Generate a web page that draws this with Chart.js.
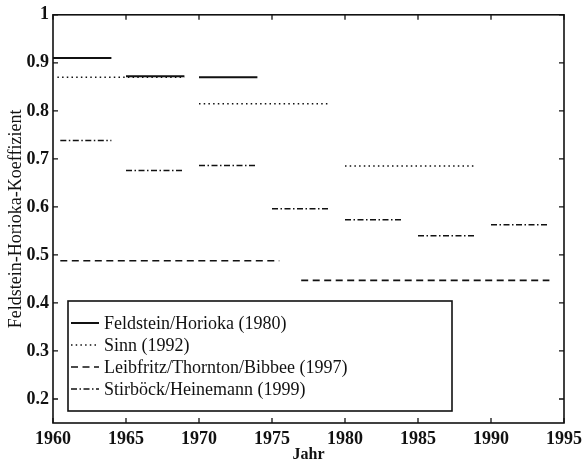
<!DOCTYPE html>
<html>
<head>
<meta charset="utf-8">
<script src="https://cdn.jsdelivr.net/npm/chart.js@4.4.1/dist/chart.umd.min.js"></script>
<style>
  html, body { margin: 0; padding: 0; background: #fff; }
  #wrap { width: 588px; height: 464px; }
</style>
</head>
<body>
<div id="wrap"><canvas id="fhChart"></canvas></div>
<script>
// Feldstein-Horioka coefficients by study and period
var seriesNames = [
    'Feldstein/Horioka (1980)',
    'Sinn (1992)',
    'Leibfritz/Thornton/Bibbee (1997)',
    'Stirböck/Heinemann (1999)'
];

var fhStart = [1960, 1965, 1970];
var fhEnd   = [1964, 1969, 1974];
var fhValue = [0.91, 0.872, 0.87];

var sinnStart = [1960.3, 1970, 1980];
var sinnEnd   = [1969, 1979, 1989];
var sinnValue = [0.87, 0.815, 0.685];

var lfStart = [1960.5, 1977];
var lfEnd   = [1975.5, 1994];
var lfValue = [0.488, 0.447];

var shStart = [1960.5, 1965, 1970, 1975, 1980, 1985, 1990];
var shEnd   = [1964, 1969, 1974, 1979, 1984, 1989, 1994];
var shValue = [0.738, 0.676, 0.686, 0.596, 0.573, 0.54, 0.563];

var xTicks = [1960, 1965, 1970, 1975, 1980, 1985, 1990, 1995];
var yTicks = [0.2, 0.3, 0.4, 0.5, 0.6, 0.7, 0.8, 0.9, 1.0];

var serif = "'Liberation Serif', 'Times New Roman', serif";

function segments(start, end, value) {
    var pts = [];
    for (var i = 0; i < start.length; i++) {
        pts.push({ x: start[i], y: value[i] });
        pts.push({ x: end[i], y: value[i] });
        pts.push({ x: end[i], y: null });
    }
    return pts;
}

var styles = [
    { width: 2,   dash: [] },
    { width: 1.5, dash: [1.5, 3.2] },
    { width: 1.6, dash: [7, 4.5] },
    { width: 1.5, dash: [6, 2.5, 1.5, 2.5] }
];

var data = [
    segments(fhStart, fhEnd, fhValue),
    segments(sinnStart, sinnEnd, sinnValue),
    segments(lfStart, lfEnd, lfValue),
    segments(shStart, shEnd, shValue)
];

var datasets = data.map(function (pts, i) {
    return {
        label: seriesNames[i],
        data: pts,
        borderColor: '#111',
        borderWidth: styles[i].width,
        borderDash: styles[i].dash,
        pointRadius: 0,
        fill: false,
        spanGaps: false,
        tension: 0
    };
});

// box around plot, inward ticks on all sides, and legend box
var framePlugin = {
    id: 'frame',
    afterDraw: function (chart) {
        var ctx = chart.ctx, a = chart.chartArea;
        var xs = chart.scales.x, ys = chart.scales.y;
        ctx.save();
        ctx.strokeStyle = '#111';
        ctx.lineWidth = 1.6;
        ctx.setLineDash([]);
        ctx.strokeRect(a.left, a.top, a.right - a.left, a.bottom - a.top);
        ctx.lineWidth = 1.3;
        ctx.beginPath();
        xTicks.forEach(function (v) {
            var px = xs.getPixelForValue(v);
            ctx.moveTo(px, a.bottom); ctx.lineTo(px, a.bottom - 5);
            ctx.moveTo(px, a.top); ctx.lineTo(px, a.top + 5);
        });
        yTicks.forEach(function (v) {
            var py = ys.getPixelForValue(v);
            ctx.moveTo(a.left, py); ctx.lineTo(a.left + 5, py);
            ctx.moveTo(a.right, py); ctx.lineTo(a.right - 5, py);
        });
        ctx.stroke();

        // legend
        var bx = 68, by = 301, bw = 384, bh = 110;
        ctx.fillStyle = '#fff';
        ctx.fillRect(bx, by, bw, bh);
        ctx.lineWidth = 1.6;
        ctx.strokeRect(bx, by, bw, bh);
        ctx.font = '18px ' + serif;
        ctx.textBaseline = 'middle';
        ctx.fillStyle = '#111';
        for (var i = 0; i < seriesNames.length; i++) {
            var ry = by + 22 + i * 22;
            ctx.beginPath();
            ctx.lineWidth = styles[i].width;
            ctx.setLineDash(styles[i].dash);
            ctx.moveTo(bx + 3, ry);
            ctx.lineTo(bx + 31, ry);
            ctx.stroke();
            ctx.setLineDash([]);
            ctx.fillText(seriesNames[i], bx + 36, ry + 1);
        }
        ctx.restore();
    }
};

new Chart(document.getElementById('fhChart'), {
    type: 'line',
    data: { datasets: datasets },
    plugins: [framePlugin],
    options: {
        responsive: true,
        maintainAspectRatio: false,
        animation: false,
        layout: { padding: { top: 14, right: 20, left: 0, bottom: 0 } },
        plugins: { legend: { display: false }, tooltip: { enabled: false } },
        scales: {
            x: {
                type: 'linear',
                min: 1960,
                max: 1995,
                grid: { display: false, drawTicks: false },
                border: { display: false },
                afterBuildTicks: function (s) { s.ticks = xTicks.map(function (v) { return { value: v }; }); },
                afterFit: function (s) { s.height = 41; },
                ticks: {
                    padding: 6,
                    maxRotation: 0,
                    color: '#111',
                    font: { family: serif, size: 18, weight: 'bold' },
                    callback: function (v) { return String(v); }
                },
                title: {
                    display: true,
                    text: 'Jahr',
                    color: '#111',
                    padding: 0,
                    font: { family: serif, size: 16, weight: 'bold' }
                }
            },
            y: {
                type: 'linear',
                min: 0.15,
                max: 1,
                grid: { display: false, drawTicks: false },
                border: { display: false },
                afterBuildTicks: function (s) { s.ticks = yTicks.map(function (v) { return { value: v }; }); },
                afterFit: function (s) { s.width = 53; },
                ticks: {
                    padding: 4,
                    color: '#111',
                    font: { family: serif, size: 18, weight: 'bold' },
                    callback: function (v) { return v === 1 ? '1' : v.toFixed(1); }
                },
                title: {
                    display: true,
                    text: 'Feldstein-Horioka-Koeffizient',
                    color: '#111',
                    padding: { top: 5, bottom: 0 },
                    font: { family: serif, size: 18 }
                }
            }
        }
    }
});
</script>
</body>
</html>
